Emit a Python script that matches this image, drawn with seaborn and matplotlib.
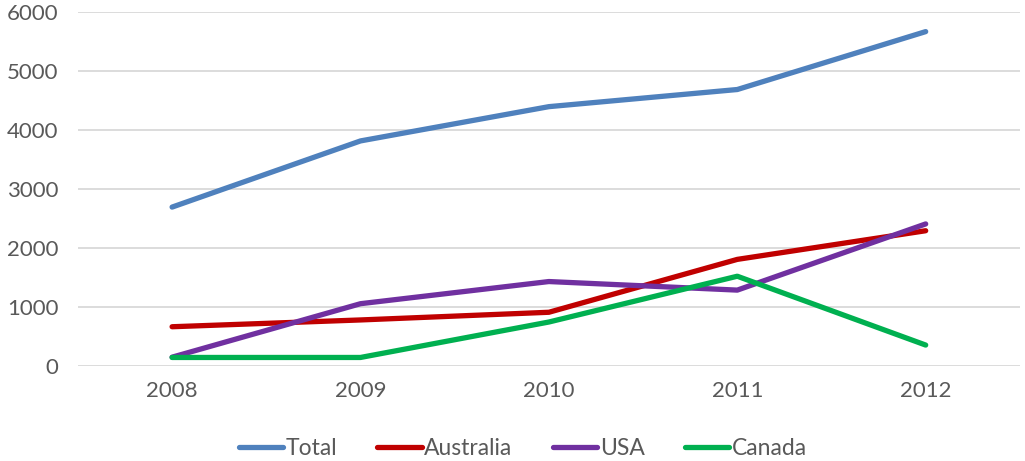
import matplotlib
matplotlib.use("Agg")
import matplotlib.pyplot as plt
import seaborn as sns
import pandas as pd

years = [2008, 2009, 2010, 2011, 2012]
total = [2690, 3810, 4390, 4680, 5660]
australia = [665, 780, 910, 1805, 2290]
usa = [150, 1055, 1430, 1285, 2405]
canada = [145, 145, 745, 1520, 355]
series_names = ["Total", "Australia", "USA", "Canada"]
colors = ["#4F81BD", "#C00000", "#7030A0", "#00B050"]

rows = []
for name, vals in zip(series_names, [total, australia, usa, canada]):
    for y, v in zip(years, vals):
        rows.append({"Year": y, "Value": v, "Series": name})
df = pd.DataFrame(rows)

sns.set_theme(style="white")
plt.rcParams["font.family"] = ["Lato", "DejaVu Sans"]

fig = plt.figure(figsize=(10.25, 4.61), dpi=100)
ax = fig.add_axes([0.076, 0.206, 0.919, 0.769])

sns.lineplot(data=df, x="Year", y="Value", hue="Series", hue_order=series_names,
             palette=dict(zip(series_names, colors)), linewidth=3.8, ax=ax,
             legend=False, solid_capstyle="round")

ax.set_xlim(2007.5, 2012.5)
ax.set_ylim(0, 6000)
ax.set_yticks(range(0, 6001, 1000))
ax.set_xticks(years)
ax.set_xticklabels([str(y) for y in years])
ax.yaxis.grid(True, color="#D9D9D9", linewidth=1.3)
ax.xaxis.grid(False)
for s in ax.spines.values():
    s.set_visible(False)
ax.tick_params(axis="both", length=0, labelsize=16, labelcolor="#595959")
ax.tick_params(axis="y", pad=14)
ax.tick_params(axis="x", pad=11)
ax.set_xlabel("")
ax.set_ylabel("")
ax.set_axisbelow(True)

from matplotlib.lines import Line2D
handles = [Line2D([0], [0], color=c, linewidth=3.8, solid_capstyle="round") for c in colors]
fig.legend(handles, series_names, loc="center", bbox_to_anchor=(0.51, 0.028), ncol=4,
           frameon=False, handlelength=1.95, handletextpad=0.1, columnspacing=1.75,
           prop={"size": 16.5}, labelcolor="#595959")

fig.savefig("out.png", dpi=100)
